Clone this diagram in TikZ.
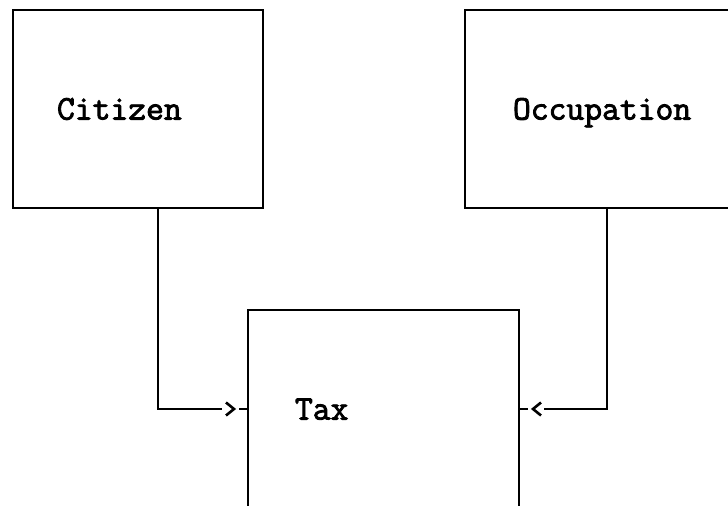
\documentclass[tikz,border=0pt]{standalone}
\usepackage{fontspec}
\newfontfamily\entityfont{Latin Modern Mono}[FakeBold=2.5]
\usetikzlibrary{positioning,calc}
\tikzset{
  x=0.5pt, y=-0.5pt,
  link/.style={line width=1pt},
  entity/.style={line width=1pt, inner ysep=0pt, align=left,
    text height=10.6pt, text depth=0pt,
    font=\fontsize{17.3}{20}\entityfont},
}
\begin{document}
\begin{tikzpicture}
\useasboundingbox (0,0) rectangle (728,506);
\clip (0,0) rectangle (728,506);
\node[entity, draw, minimum width=125pt, minimum height=99pt, inner xsep=22pt, text width=81pt] (citizen) at (138,109) {Citizen};
\node[entity, draw, minimum width=147.5pt, minimum height=99pt, inner xsep=24pt, text width=99.5pt] (occupation) at (612.5,109) {Occupation};
\node[entity, minimum width=134.5pt, minimum height=98pt, inner xsep=23pt, text width=88.5pt] (tax) at (383.5,409) {Tax};
\draw[link] (tax.south west) |- (tax.north east) -- (tax.south east);
\coordinate (citend) at ($(tax.west)+(-26,0)$);
\coordinate (occend) at ($(tax.east)+(25,0)$);
\draw[link] ($(citizen.south)+(20,0)$) |- (citend);
\draw[link] ($(occupation.south)+(-5.5,0)$) |- (occend);
\draw[link, line width=1.3pt] ($(tax.west)+(-22,-6.5)$) -- ++(8,6.5) -- ++(-8,6.5);
\draw[link] (tax.west) -- ++(-9,0);
\draw[link, line width=1.3pt] ($(tax.east)+(22,-6.5)$) -- ++(-8,6.5) -- ++(8,6.5);
\draw[link] (tax.east) -- ++(9,0);
\end{tikzpicture}
\end{document}
